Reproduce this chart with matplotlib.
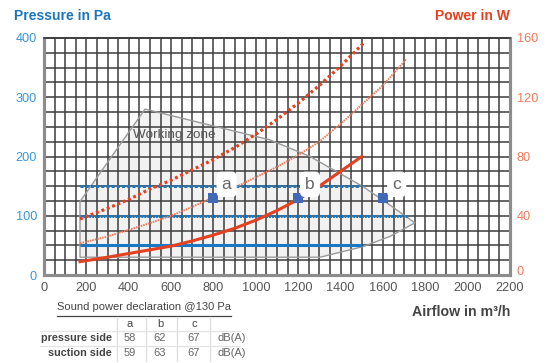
import matplotlib
matplotlib.use("Agg")
import matplotlib.pyplot as plt
from matplotlib.patches import Polygon
from matplotlib.lines import Line2D
from matplotlib.transforms import ScaledTranslation

plt.rcParams["font.family"] = ["Liberation Sans", "DejaVu Sans"]

# ---- data ----
airflow_ticks = list(range(0, 2201, 200))
pressure_ticks = [0, 100, 200, 300, 400]
power_ticks = [0, 40, 80, 120, 160]

# constant-pressure lines (Pa): level, start airflow, end airflow
p_solid = (50, 170, 1500)
p_fine = (100, 170, 1720)
p_dash = (150, 170, 1500)

# power curves (W)
pw_solid_x = [170, 300, 400, 500, 600, 700, 800, 900, 1000, 1100, 1200, 1300, 1400, 1500]
pw_solid_y = [9, 12, 14.5, 17, 19.5, 23, 27, 31.5, 37, 43.5, 51, 60, 70, 80]
pw_dot_x = [170, 300, 400, 500, 600, 700, 800, 900, 1000, 1100, 1200, 1300, 1400, 1515]
pw_dot_y = [37.8, 45, 51, 58, 64, 71, 78, 86, 95, 105, 116, 128, 141, 157.5]
pw_thin_x = [170, 300, 400, 500, 600, 700, 800, 900, 1000, 1100, 1200, 1300, 1400, 1500, 1600, 1712]
pw_thin_y = [21.4, 26, 30.5, 35, 40, 46, 52.5, 59, 66, 73, 81, 90, 102, 115, 128, 146]

# working zone outline
zone_x = [170, 170, 477, 1067, 1256, 1507, 1633, 1751, 1633, 1507, 1303, 170]
zone_y = [30, 124, 280, 228, 200, 149, 118, 88, 65, 48, 30, 30]

# sound measurement points
pts_label = ["a", "b", "c"]
pts_x = [800, 1200, 1600]
pts_y = [130, 130, 130]
lbl_x = [862, 1256, 1665]
lbl_y = [153, 153, 153]

tbl_cols = ["a", "b", "c"]
tbl_rows = ["pressure side", "suction side"]
tbl_vals = [[58, 62, 67], [59, 63, 67]]
tbl_unit = "dB(A)"

BLUE = "#1a78c2"
BLUE_T = "#3a96d8"
RED = "#e5401f"
RED_T = "#f07a5c"
GRID = "#3c3c3c"
SPINE = "#8c8c8c"

W, H = 550, 363
fig = plt.figure(figsize=(W / 100, H / 100), dpi=100)
ax = fig.add_axes([44 / W, 1 - 275 / H, (510 - 44) / W, (275 - 38) / H])
ax.set_xlim(0, 2200)
ax.set_ylim(0, 400)

# grid
for gx in range(50, 2200, 50):
    ax.axvline(gx, color=GRID, lw=1.1, zorder=1)
for gy in range(25, 400, 25):
    ax.axhline(gy, color=GRID, lw=1.1, zorder=1)

# working zone
ax.add_patch(Polygon(list(zip(zone_x, zone_y)), closed=True, facecolor="#f2f2f2",
                     edgecolor="none", zorder=0.5))
ax.add_patch(Polygon(list(zip(zone_x, zone_y)), closed=True, fill=False,
                     edgecolor="#9a9a9a", lw=1.0, zorder=1.5))
ax.text(420, 236, "Working zone", fontsize=9.7, color="#555555", zorder=2,
        va="center", ha="left")

# constant pressure lines
ax.plot([p_solid[1], p_solid[2]], [p_solid[0]] * 2, color=BLUE, lw=2.2, zorder=3,
        solid_capstyle="butt")
ax.plot([p_fine[1], p_fine[2]], [p_fine[0]] * 2, color=BLUE, lw=2.2, zorder=3,
        linestyle=(0, (0.6, 0.35)))
ax.plot([p_dash[1], p_dash[2]], [p_dash[0]] * 2, color=BLUE, lw=2.2, zorder=3,
        linestyle=(0, (1.0, 0.7)))

# power curves on twin axis
ax2 = ax.twinx()
ax2.set_ylim(0, 160)
ax2.plot(pw_solid_x, pw_solid_y, color=RED, lw=2.2, zorder=4)
ax2.plot(pw_dot_x, pw_dot_y, color=RED, lw=2.3, linestyle=(0, (0.9, 0.9)), zorder=4)
ax2.plot(pw_thin_x, pw_thin_y, color=RED_T, lw=1.4, linestyle=(0, (0.8, 0.5)), zorder=4)

# markers and labels
to_w = 160 / 400
ax2.scatter(pts_x, [v * to_w for v in pts_y], marker="s", s=45, color="#4169b8",
            zorder=6, linewidths=0)
for lab, lx, ly in zip(pts_label, lbl_x, lbl_y):
    ax2.text(lx, ly * to_w, lab, fontsize=12.5, color="#666666", ha="center", va="center",
             zorder=7,
             bbox=dict(boxstyle="round,pad=0.3,rounding_size=0.3", fc="white", ec="none"))

# ticks
ax.set_xticks(airflow_ticks)
ax.set_yticks(pressure_ticks)
ax2.set_yticks(power_ticks)
ax.tick_params(axis="x", length=0, labelsize=9.2, labelcolor="#555555", pad=5)
ax.tick_params(axis="y", length=0, labelsize=9.2, labelcolor=BLUE_T, pad=5)
ax2.tick_params(axis="y", length=0, labelsize=9.2, labelcolor=RED_T, pad=5)
lbl0 = ax2.yaxis.get_major_ticks()[0].label2
lbl0.set_transform(lbl0.get_transform() + ScaledTranslation(0, 3 / 72, fig.dpi_scale_trans))

for a in (ax, ax2):
    for s in a.spines.values():
        s.set_color(SPINE)
        s.set_linewidth(2.2)
    a.spines["top"].set_color(GRID)
    a.spines["top"].set_linewidth(1.2)
    a.set_facecolor("none")
ax.set_facecolor("white")

# titles
fig.text(14 / W, 1 - 16 / H, "Pressure in Pa", fontsize=10, fontweight="bold",
         color="#1b75bc", ha="left", va="center")
fig.text(510 / W, 1 - 16 / H, "Power in W", fontsize=10, fontweight="bold",
         color=RED, ha="right", va="center")
fig.text(510 / W, 1 - 312 / H, "Airflow in m\u00b3/h", fontsize=10.2, fontweight="bold",
         color="#444444", ha="right", va="center")

# sound power table
def fx(px):
    return px / W

def fy(py):
    return 1 - py / H

fig.text(fx(57), fy(307), "Sound power declaration @130 Pa", fontsize=8,
         color="#444444", ha="left", va="center")
fig.add_artist(Line2D([fx(57), fx(231)], [fy(315.5), fy(315.5)], color="#444444", lw=0.9))
col_cx = [130, 160, 194]
for c, cx in zip(tbl_cols, col_cx):
    fig.text(fx(cx), fy(324), c, fontsize=8, color="#444444", ha="center", va="center")
row_y = [338, 353]
for rname, vals, ry in zip(tbl_rows, tbl_vals, row_y):
    fig.text(fx(112), fy(ry), rname, fontsize=7.8, fontweight="bold", color="#444444",
             ha="right", va="center")
    for v, cx in zip(vals, col_cx):
        fig.text(fx(cx), fy(ry), str(v), fontsize=8, color="#666666", ha="center",
                 va="center")
    fig.text(fx(217), fy(ry), tbl_unit, fontsize=8, color="#666666", ha="left",
             va="center")
for vx in [117, 146, 177, 210]:
    fig.add_artist(Line2D([fx(vx), fx(vx)], [fy(317), fy(361)], color="#dddddd", lw=0.9))
for hy in [330.5, 345.5]:
    fig.add_artist(Line2D([fx(40), fx(240)], [fy(hy), fy(hy)], color="#e4e4e4", lw=0.9))

fig.savefig("out.png", dpi=100)
